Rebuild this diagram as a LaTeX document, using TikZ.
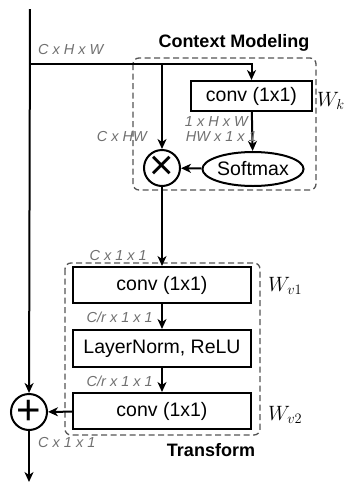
\documentclass[tikz,border=0pt]{standalone}
\usepackage{fontspec}
\setmainfont{Liberation Sans}
\usetikzlibrary{arrows.meta, positioning, shapes.geometric}
\definecolor{dimgrey}{HTML}{707070}
\definecolor{boxgrey}{HTML}{555555}
\tikzset{
  opbox/.style={rectangle, draw, line width=2pt, inner sep=0pt,
    font=\fontsize{19.5}{21}\selectfont},
  opoval/.style={ellipse, draw, line width=2pt, inner sep=0pt,
    minimum width=90pt, minimum height=34pt, font=\fontsize{19.5}{21}\selectfont},
  opcircle/.style={circle, draw, line width=2pt, inner sep=0pt,
    minimum size=36pt, font=\fontsize{42}{42}\selectfont},
  dimlabel/.style={font=\fontsize{14.5}{16}\selectfont\itshape, text=dimgrey, inner sep=0pt},
  grouptitle/.style={font=\fontsize{18}{20}\selectfont\bfseries, inner sep=0pt},
  weight/.style={font=\fontsize{21}{23}\selectfont, inner sep=0pt, anchor=west},
  groupbox/.style={draw=boxgrey, dash pattern=on 6pt off 3.5pt, line width=1.3pt, rounded corners=6pt},
  arrow/.style={-{Stealth[length=10pt, width=9pt, inset=3pt]}, line width=2pt},
}

\begin{document}
\begin{tikzpicture}[x=1pt, y=-1pt]
\useasboundingbox (0,0) rectangle (349,483);

% group frames
\draw[groupbox] (133,58) rectangle (316,190);
\draw[groupbox] (65,263) rectangle (260,435);
\node[grouptitle] (ctxtitle) at (234,43) {Context Modeling};
\node[grouptitle] (trtitle) at (211,450) {Transform};

% context modeling
\node[opbox, minimum width=121pt, minimum height=30pt] (convk) at (251.5,96) {conv (1x1)};
\node[opoval] (softmax) at (253,169) {Softmax};
\node[opcircle] (mul) at (162,168) {×};
\node[weight] (wk) at (317,101) {$W_k$};

% transform
\node[opbox, minimum width=178pt, minimum height=36pt] (conva) at (162,285) {conv (1x1)};
\node[opbox, minimum width=178pt, minimum height=37pt] (norm) at (162,348.5) {LayerNorm, ReLU};
\node[opbox, minimum width=178pt, minimum height=36pt] (convb) at (162,411) {conv (1x1)};
\node[weight] (wva) at (268,286) {$W_{v1}$};
\node[weight] (wvb) at (268,415) {$W_{v2}$};

% residual path
\node[opcircle] (plus) at (29,412) {+};
\coordinate (in) at (30,9);
\coordinate (split) at (30,64);
\coordinate (tap) at (162,64);
\coordinate (out) at (29,482);

% connectors
\draw[arrow] (in) -- (plus);
\draw[arrow] (split) -| (convk);
\draw[arrow] (tap) -- (mul);
\draw[arrow] (convk) -- (softmax);
\draw[arrow] (softmax) -- (mul);
\draw[arrow] (mul) -- (conva);
\draw[arrow] (conva) -- (norm);
\draw[arrow] (norm) -- (convb);
\draw[arrow] (convb) -- (plus);
\draw[arrow] (plus) -- (out);

% shapes
\node[dimlabel, anchor=west] (dimin) at (38,50) {C x H x W};
\node[dimlabel, anchor=east] (dimk) at (248,122) {1 x H x W};
\node[dimlabel, anchor=east] (dimkt) at (257,137) {HW x 1 x 1};
\node[dimlabel, anchor=east] (dimv) at (147,137) {C x HW};
\node[dimlabel, anchor=east] (dimctx) at (147,256) {C x 1 x 1};
\node[dimlabel, anchor=east] (dima) at (153,317) {C/r x 1 x 1};
\node[dimlabel, anchor=east] (dimb) at (153,381) {C/r x 1 x 1};
\node[dimlabel, anchor=west] (dimout) at (38,443) {C x 1 x 1};
\end{tikzpicture}
\end{document}
